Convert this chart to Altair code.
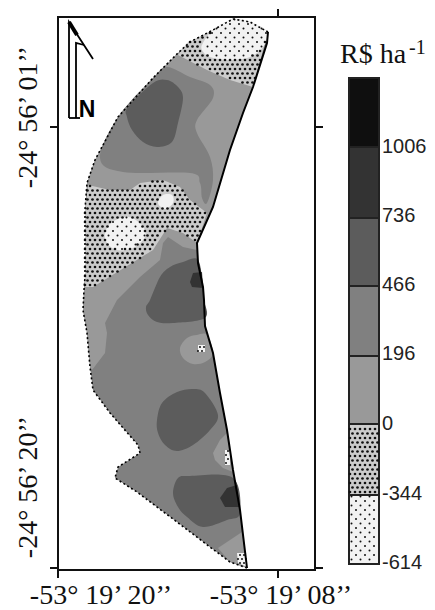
import altair as alt
import pandas as pd

# Map grid: digitised map units. Ticks sit at the four graticule values.
X_DOMAIN = [58, 315]
Y_DOMAIN = [570, 17]
X_TICKS = [58, 278]
Y_TICKS = [127, 568]

GREYS = {"black": "#0f0f0f", "d3": "#333333", "d2": "#5c5c5c", "mid": "#808080",
         "light": "#999999", "white": "#f2f2f2", "hatch": "#cccccc"}

right_edge = [(268,32),(267,43),(253,87),(243,113),(230,150),(213,207),(197,243),(198,263),
              (203,287),(204,300),(205,326),(213,353),(220,393),(227,430),(233,470),(240,510),(247,568)]
left_edge = [(247,568),(230,562),(210,547),(177,522),(137,492),(115,478),(118,467),(140,453),(138,445),(110,413),
             (93,390),(90,367),(87,333),(83,310),(84,290),(85,277),(85,210),(87,183),(95,160),(118,117),(153,78),
             (178,53),(190,42),(213,30),(233,19),(250,22),(268,32)]
outline = right_edge + left_edge[1:-1]

upper_light = [(178,53),(253,87),(243,113),(230,150),(213,207),(197,243),(88,190),(87,183),(95,160),(118,117),(153,78)]
upper_mid = [(167,67),(190,77),(210,85),(213,98),(197,120),(197,133),(210,157),(213,180),(207,203),(202,198),(200,183),
             (190,173),(123,172),(100,158),(118,117),(153,78)]
upper_dark = [(128,107),(153,83),(167,80),(178,87),(183,98),(178,123),(172,142),(157,147),(143,142),(132,130),(127,117)]
lower_light = [(85,277),(153,245),(167,225),(197,240),(197,250),(183,247),(168,237),(163,243),(160,260),(140,277),(117,300),
               (105,323),(107,333),(105,353),(92,370),(90,367),(87,333),(83,310),(84,290)]
lower_dark = [(150,300),(160,277),(170,267),(183,262),(198,260),(203,287),(204,300),(205,318),(173,323),(157,322),(148,315),(146,307)]
lower_darker = [(190,282),(193,273),(202,272),(203,288),(192,287)]
spot_a = [(180,348),(187,338),(197,335),(207,335),(213,353),(205,362),(193,364),(183,358)]
blob_b = [(157,420),(162,403),(177,392),(193,389),(205,393),(218,415),(210,430),(193,445),(177,451),(165,445),(158,433)]
spot_c = [(213,453),(220,440),(227,433),(233,472),(223,468),(215,460)]
blob_d = [(173,493),(178,478),(190,476),(233,478),(240,513),(227,520),(203,527),(187,517),(178,507)]
blob_d_dark = [(220,498),(227,488),(237,485),(239,507),(225,507)]
tip_light = [(218,548),(242,532),(247,568),(230,562)]

dense_top = [(178,55),(187,43),(213,30),(233,19),(250,22),(268,32),(253,87),(230,80),(207,70)]
sparse_top = [(203,43),(213,30),(233,19),(250,22),(268,32),(263,47),(250,57),(230,60),(210,57),(202,50)]
dense_mid = [(88,185),(110,190),(130,190),(140,183),(163,180),(180,187),(190,200),(207,213),(197,243),(183,233),(167,228),
             (153,250),(93,287),(85,287),(85,210)]
sparse_hole1 = [(105,233),(112,222),(128,217),(142,225),(145,237),(133,248),(117,250),(107,243)]
sparse_hole2 = [(158,203),(163,195),(172,195),(173,203),(165,209)]
tiny_a = [(198,345),(205,345),(205,352),(198,352)]
tiny_c = [(225,450),(230,450),(230,465),(225,465)]
tiny_tip = [(237,553),(247,553),(247,567),(238,563)]

LEGEND_X = [349, 379]
LEGEND_BREAKS = [78, 147, 218, 286, 356, 424, 495, 564]
LEGEND_FILLS = ["black", "d3", "d2", "mid", "light", "hatch", "white"]
LEGEND_TEXT = ["1006", "736", "466", "196", "0", "-344", "-614"]
LEGEND_TEXT_Y = [147, 216, 285, 354, 424, 494, 563]

arrow_paths = [[(69,118),(69,22),(93,59)], [(76,118),(76,43),(84,45)], [(69,118),(80,118)]]
arrow_tip = [(69,22),(77,35)]

xq = alt.X("x:Q", axis=None, scale=alt.Scale(domain=X_DOMAIN, nice=False, zero=False))
yq = alt.Y("y:Q", axis=None, scale=alt.Scale(domain=Y_DOMAIN, nice=False, zero=False))


def frame(pts):
    return pd.DataFrame({"x": [p[0] for p in pts], "y": [p[1] for p in pts], "i": range(len(pts))})


def poly(pts, grey, smooth=False):
    return alt.Chart(frame(pts)).mark_line(fill=GREYS[grey], stroke=None, strokeWidth=0,
                                           interpolate="cardinal-closed" if smooth else "linear-closed").encode(
        x=xq, y=yq, order="i:Q")


def inside(px, py, pts):
    c = False
    n = len(pts)
    for k in range(n):
        x1, y1 = pts[k]
        x2, y2 = pts[(k + 1) % n]
        if (y1 > py) != (y2 > py) and px < (x2 - x1) * (py - y1) / (y2 - y1) + x1:
            c = not c
    return c


def stipple(region, dx, dy, holes=()):
    """Texture dots of the hatched classes, clipped to a region."""
    xs = [p[0] for p in region]
    ys = [p[1] for p in region]
    out = []
    row = 0
    y = 15.0
    while y < 572:
        x = 50.0 + (dx / 2 if row % 2 else 0)
        while x < 400:
            if min(ys) <= y <= max(ys) and min(xs) <= x <= max(xs) and inside(x, y, region) \
                    and not any(inside(x, y, h) for h in holes):
                out.append({"x": x, "y": y})
            x += dx
        y += dy
        row += 1
    return out


def dots(pts, size):
    return alt.Chart(pd.DataFrame(pts)).mark_circle(color="#111111", size=size, opacity=1).encode(x=xq, y=yq)


layers = [poly(outline, "mid")]
layers += [poly(upper_light, "light"), poly(upper_mid, "mid", True), poly(upper_dark, "d2", True),
           poly(lower_light, "light"), poly(lower_dark, "d2", True), poly(lower_darker, "d3"),
           poly(spot_a, "light", True), poly(blob_b, "d2", True), poly(spot_c, "light"),
           poly(blob_d, "d2", True), poly(blob_d_dark, "d3"), poly(tip_light, "light")]

# hatched classes
DX_D, DY_D = 5, 4.5
DX_S, DY_S = 9, 4.5
for reg in (dense_top, dense_mid):
    layers.append(poly(reg, "hatch"))
layers += [poly(sparse_top, "white", True), poly(sparse_hole1, "white", True), poly(sparse_hole2, "white", True),
           poly(tiny_a, "white"), poly(tiny_c, "white"), poly(tiny_tip, "white")]
layers.append(dots(stipple(dense_top, DX_D, DY_D, holes=[sparse_top]) + stipple(dense_mid, DX_D, DY_D, holes=[sparse_hole1, sparse_hole2]), 7))
layers.append(dots(stipple(sparse_top, DX_S, DY_S) + stipple(sparse_hole1, DX_S, DY_S) + stipple(tiny_a, 4, 4) + stipple(tiny_c, 4, 4) + stipple(tiny_tip, 4, 4), 4))

# boundary
layers.append(alt.Chart(frame(right_edge)).mark_line(color="#000000", strokeWidth=2).encode(x=xq, y=yq, order="i:Q"))
layers.append(alt.Chart(frame(left_edge)).mark_line(color="#000000", strokeWidth=1.6, strokeDash=[2, 2.5]).encode(x=xq, y=yq, order="i:Q"))

# north arrow
for path in arrow_paths:
    layers.append(alt.Chart(frame(path)).mark_line(color="#000000", strokeWidth=1.8).encode(x=xq, y=yq, order="i:Q"))
layers.append(alt.Chart(frame(arrow_tip)).mark_line(color="#000000", strokeWidth=4).encode(x=xq, y=yq, order="i:Q"))
layers.append(alt.Chart(pd.DataFrame({"x": [87], "y": [110], "t": ["N"]})).mark_text(
    font="Liberation Sans", fontWeight="bold", fontSize=23, color="#000", align="center", baseline="middle").encode(x=xq, y=yq, text="t:N"))

# graticule ticks on all four sides
tick_v = pd.DataFrame({"x": [58, 278, 278], "y": [570, 570, 17], "y2": [578, 578, 9]})
tick_h = pd.DataFrame({"x": [58, 58, 315, 315], "x2": [50, 50, 323, 323], "y": Y_TICKS + Y_TICKS})
layers.append(alt.Chart(tick_v).mark_rule(color="#111", strokeWidth=2).encode(x=xq, y=yq, y2="y2:Q"))
layers.append(alt.Chart(tick_h).mark_rule(color="#111", strokeWidth=2).encode(x=xq, x2="x2:Q", y=yq))

# coordinate labels
coord_x = pd.DataFrame({"x": [101, 281], "y": [596, 596], "t": ["-53° 19’ 20’’", "-53° 19’ 08’’"]})
coord_y = pd.DataFrame({"x": [29, 29], "y": [117, 487], "t": ["-24° 56’ 01’’", "-24° 56’ 20’’"]})
layers.append(alt.Chart(coord_x).mark_text(font="Liberation Serif", fontSize=28, color="#111", align="center", baseline="middle").encode(x=xq, y=yq, text="t:N"))
layers.append(alt.Chart(coord_y).mark_text(font="Liberation Serif", fontSize=28, color="#111", align="center", baseline="middle", angle=270).encode(x=xq, y=yq, text="t:N"))

# legend
leg = pd.DataFrame({"x": [LEGEND_X[0]] * 7, "x2": [LEGEND_X[1]] * 7, "y": LEGEND_BREAKS[:-1], "y2": LEGEND_BREAKS[1:],
                    "f": [GREYS[k] for k in LEGEND_FILLS]})
layers.append(alt.Chart(leg).mark_rect(stroke="#222222", strokeWidth=2).encode(
    x=xq, x2="x2:Q", y=yq, y2="y2:Q", fill=alt.Fill("f:N", scale=None)))
leg_dense = [(350,425),(378,425),(378,494),(350,494)]
leg_sparse = [(350,496),(378,496),(378,563),(350,563)]
layers.append(dots(stipple(leg_dense, DX_D, DY_D), 7))
layers.append(dots(stipple(leg_sparse, DX_S, DY_S), 4))
leg_txt = pd.DataFrame({"x": [382] * 7, "y": LEGEND_TEXT_Y, "t": LEGEND_TEXT})
layers.append(alt.Chart(leg_txt).mark_text(font="Liberation Sans", fontSize=20, color="#222", align="left", baseline="middle").encode(x=xq, y=yq, text="t:N"))
layers.append(alt.Chart(pd.DataFrame({"x": [340], "y": [55], "t": ["R$ ha"]})).mark_text(font="Liberation Serif", fontSize=28, color="#111", align="left", baseline="middle").encode(x=xq, y=yq, text="t:N"))
layers.append(alt.Chart(pd.DataFrame({"x": [409], "y": [48], "t": ["-1"]})).mark_text(font="Liberation Serif", fontSize=20, color="#111", align="left", baseline="middle").encode(x=xq, y=yq, text="t:N"))

chart = alt.layer(*layers).properties(
    width=257, height=553,
    autosize=alt.AutoSizeParams(type="none"),
    padding={"left": 50, "top": 9, "right": 112, "bottom": 40},
).configure_view(stroke="#111111", strokeWidth=2)

chart.save("out.html", embed_options={"renderer": "svg", "actions": False})
